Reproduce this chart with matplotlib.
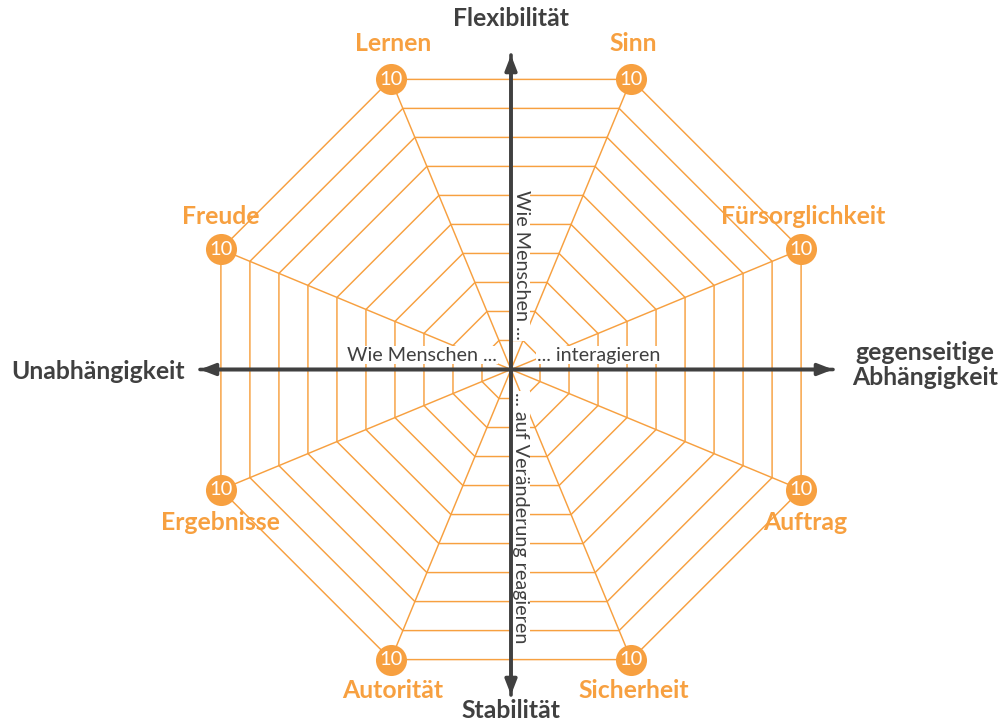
import numpy as np
import matplotlib
matplotlib.use("Agg")
import matplotlib.pyplot as plt

plt.rcParams['font.family'] = ['Lato', 'DejaVu Sans']

# Daten
kategorien = ['Sinn', 'Fürsorglichkeit', 'Auftrag', 'Sicherheit',
              'Autorität', 'Ergebnisse', 'Freude', 'Lernen']
winkel_grad = [67.5, 22.5, -22.5, -67.5, -112.5, -157.5, 157.5, 112.5]
stufen = [1, 2, 3, 4, 5, 6, 7, 8, 9, 10]
max_wert = 10
achsen_oben = 'Flexibilität'
achsen_unten = 'Stabilität'
achsen_links = 'Unabhängigkeit'
achsen_rechts = 'gegenseitige\nAbhängigkeit'

orange = '#F7A040'
grau = '#404040'

# pixel -> daten (mitte bei 511/369.5, 31.4 px pro stufe)
s = 31.4
def px(x):
    return (x - 511) / s
def py(y):
    return (369.5 - y) / s

fig = plt.figure(figsize=(10.02, 7.26), dpi=100)
ax = fig.add_axes([0, 0, 1, 1])
ax.set_xlim(px(0), px(1002))
ax.set_ylim(py(726), py(0))
ax.set_aspect('equal')
ax.axis('off')

w = np.radians(winkel_grad)
# ringe
for r in stufen:
    xs = r * np.cos(np.append(w, w[0]))
    ys = r * np.sin(np.append(w, w[0]))
    ax.plot(xs, ys, color=orange, lw=1.05, zorder=1)
# speichen
for a in w:
    ax.plot([0, max_wert * np.cos(a)], [0, max_wert * np.sin(a)], color=orange, lw=1.05, zorder=1)

# achsen pfeile
pfeil = dict(arrowstyle='-|>,head_length=0.9,head_width=0.35', color=grau, lw=2.6, shrinkA=0, shrinkB=0)
ax.annotate('', xy=(0, py(55)), xytext=(0, py(695)), arrowprops=pfeil, zorder=3)
ax.annotate('', xy=(0, py(695)), xytext=(0, py(55)), arrowprops=pfeil, zorder=3)
ax.annotate('', xy=(px(833), 0), xytext=(px(200), 0), arrowprops=pfeil, zorder=3)
ax.annotate('', xy=(px(200), 0), xytext=(px(833), 0), arrowprops=pfeil, zorder=3)

# innere beschriftungen
box = dict(facecolor='white', edgecolor='none', pad=0.5)
ax.text(px(497), py(355), 'Wie Menschen ...', ha='right', va='center', fontsize=14.2,
        color=grau, bbox=box, zorder=2)
ax.text(px(537), py(355), '... interagieren', ha='left', va='center', fontsize=14.2,
        color=grau, bbox=box, zorder=2)
ax.text(px(521), py(190), 'Wie Menschen ...', ha='left', va='center', rotation=-90,
        rotation_mode='anchor', fontsize=14.2, color=grau, bbox=box, zorder=2)
ax.text(px(521), py(392), '... auf Veränderung reagieren', ha='left', va='center', rotation=-90,
        rotation_mode='anchor', fontsize=14.2, color=grau, bbox=box, zorder=2)

# marker an den spitzen
for a in w:
    x, y = max_wert * np.cos(a), max_wert * np.sin(a)
    ax.scatter([x], [y], s=500, color=orange, zorder=4, linewidths=0)
    ax.text(x, y, str(max_wert), ha='center', va='center', color='white', fontsize=14.5, zorder=5)

# kategorie labels
label_pos = [(633, 43), (803, 216), (805, 522), (634, 691),
             (393, 691), (220, 522), (221, 216), (393, 43)]
for name, (lx, ly) in zip(kategorien, label_pos):
    ax.text(px(lx), py(ly), name, ha='center', va='center', fontsize=17.8,
            fontweight='bold', color=orange)

# achsen labels
ax.text(0, py(18), achsen_oben, ha='center', va='center', fontsize=17.8, fontweight='bold', color=grau)
ax.text(0, py(711), achsen_unten, ha='center', va='center', fontsize=17.8, fontweight='bold', color=grau)
ax.text(px(98), py(371), achsen_links, ha='center', va='center', fontsize=17.8, fontweight='bold', color=grau)
ax.text(px(925), py(365), achsen_rechts, ha='center', va='center', fontsize=17.8, fontweight='bold',
        color=grau, linespacing=1.1)

fig.savefig('out.png', dpi=100)
